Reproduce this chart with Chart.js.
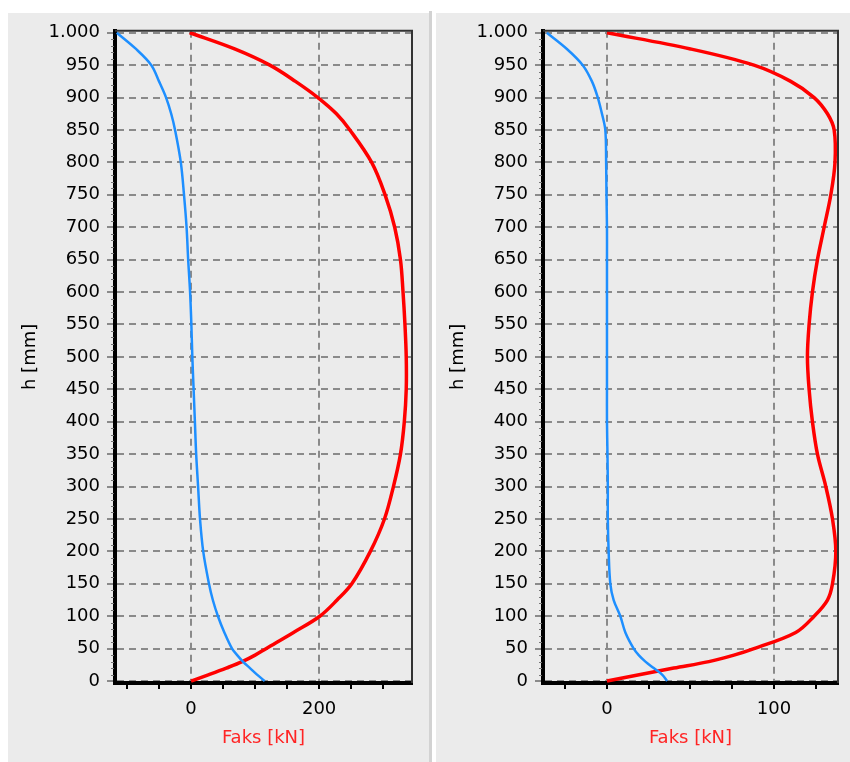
<!DOCTYPE html>
<html>
<head>
<meta charset="utf-8">
<script src="https://cdn.jsdelivr.net/npm/chart.js@4.4.0/dist/chart.umd.min.js"></script>
<style>
  html, body { margin: 0; padding: 0; background: #fff; }
  body { width: 850px; height: 762px; position: relative; overflow: hidden; }
  .panel { position: absolute; top: 13px; height: 749px; background: #ebebeb; }
  #leftPanel { left: 8px; width: 421px; }
  #rightPanel { left: 436px; width: 414px; }
  .divider { position: absolute; left: 429px; top: 11px; width: 3px; height: 751px; background: #d2d2d2; }
  canvas { display: block; }
</style>
</head>
<body>
<div class="panel" id="leftPanel"><canvas id="leftChart" width="421" height="749"></canvas></div>
<div class="divider"></div>
<div class="panel" id="rightPanel"><canvas id="rightChart" width="414" height="749"></canvas></div>

<script>
// heights [mm] where the curves were read
const hLevels = [0, 10, 20, 30, 40, 50, 75, 100, 125, 150, 200, 250, 300, 350, 400, 450, 500,
                 550, 600, 650, 700, 750, 800, 850, 875, 900, 925, 950, 975, 1000];

// left diagram, Faks [kN]
const leftRed  = [0, 28, 55, 80, 100, 117, 160, 201, 228, 251, 280, 302, 316, 327, 333, 336, 336,
                  334, 331, 327, 318, 303, 282, 248, 227, 198, 163, 123, 68, -2];
const leftBlue = [115, 103, 92, 81, 72, 64, 52, 42, 34, 28, 19, 14, 11, 8, 6, 4, 2,
                  0.5, -1.5, -4.5, -7, -11, -16, -25, -31, -39, -50, -62, -86, -116];

// right diagram, Faks [kN]
const rightRed  = [0, 20, 40, 61, 76, 88, 113, 124, 132, 135, 137, 135, 131, 126, 123, 121, 120,
                   121, 123, 126, 130, 134, 136.5, 136, 132, 124, 110, 88, 50, 0];
const rightBlue = [36, 33, 28, 23, 19, 16, 11, 8, 4, 2, 1, 0.5, 0.5, 0.3, 0, 0, 0,
                   0, 0, 0, 0, -0.3, -0.5, -1, -3, -5.5, -9, -14.5, -24, -36];

// axes
const yTicks = [0, 50, 100, 150, 200, 250, 300, 350, 400, 450, 500, 550, 600, 650, 700, 750, 800, 850, 900, 950, 1000];
const yTickLabels = ['0', '50', '100', '150', '200', '250', '300', '350', '400', '450', '500', '550', '600',
                     '650', '700', '750', '800', '850', '900', '950', '1.000'];
const leftXTicks  = [-100, -50, 0, 50, 100, 150, 200, 250, 300];
const leftXLabels = ['', '', '0', '', '', '', '200', '', ''];
const rightXTicks  = [-25, 0, 25, 50, 75, 100, 125];
const rightXLabels = ['', '0', '', '', '', '100', ''];

Chart.defaults.font.family = '"DejaVu Sans", Verdana, sans-serif';
Chart.defaults.font.size = 18;

const GRID = '#8a8a8a';
const DASH = [7, 5];

const framePlugin = {
    id: 'frame',
    afterDraw(chart) {
        const { ctx, chartArea: a, scales } = chart;
        const y = scales.y;
        ctx.save();
        ctx.strokeStyle = '#333';
        ctx.lineWidth = 2;
        ctx.beginPath();
        ctx.moveTo(a.left, a.top);
        ctx.lineTo(a.right, a.top);
        ctx.lineTo(a.right, a.bottom);
        ctx.stroke();
        // small minor ticks along the h axis
        ctx.strokeStyle = '#777';
        ctx.lineWidth = 1;
        for (let v = 10; v < 1000; v += 10) {
            if (v % 50 === 0) continue;
            const py = Math.round(y.getPixelForValue(v)) + 0.5;
            ctx.beginPath();
            ctx.moveTo(a.left - 4, py);
            ctx.lineTo(a.left - 1, py);
            ctx.stroke();
        }
        ctx.restore();
    }
};

function toPoints(values) {
    return values.map((v, i) => ({ x: v, y: hLevels[i] }));
}

function makeChart(id, red, blue, xMin, xMax, xTicks, xLabels, padRight) {
    const ctx = document.getElementById(id).getContext('2d');
    return new Chart(ctx, {
        type: 'scatter',
        data: {
            datasets: [
                {
                    label: 'blue',
                    data: toPoints(blue),
                    showLine: true,
                    borderColor: '#1e8fff',
                    borderWidth: 2.5,
                    pointRadius: 0,
                    tension: 0.35
                },
                {
                    label: 'red',
                    data: toPoints(red),
                    showLine: true,
                    borderColor: '#ff0000',
                    borderWidth: 3.5,
                    pointRadius: 0,
                    tension: 0.35
                }
            ]
        },
        options: {
            responsive: false,
            animation: false,
            events: [],
            layout: { padding: { top: 17, right: padRight, bottom: 0, left: 0 } },
            plugins: {
                legend: { display: false },
                tooltip: { enabled: false }
            },
            scales: {
                x: {
                    type: 'linear',
                    bounds: 'data',
                    min: xMin,
                    max: xMax,
                    afterBuildTicks: s => { s.ticks = xTicks.map(v => ({ value: v })); },
                    afterFit: s => { s.height = 79; },
                    ticks: {
                        autoSkip: false,
                        maxRotation: 0,
                        color: '#000',
                        padding: 10,
                        callback: v => xLabels[xTicks.indexOf(v)] || ''
                    },
                    grid: {
                        color: c => (xLabels[xTicks.indexOf(c.tick && c.tick.value)] ? GRID : 'rgba(0,0,0,0)'),
                        lineWidth: 2,
                        tickLength: 6,
                        tickColor: '#000',
                        tickWidth: 2
                    },
                    border: { color: '#000', width: 4, dash: DASH },
                    title: {
                        display: true,
                        text: 'Faks [kN]',
                        color: '#ff2424',
                        padding: { top: 0, bottom: 13 }
                    }
                },
                y: {
                    type: 'linear',
                    bounds: 'data',
                    min: -3,
                    max: 1003,
                    afterBuildTicks: s => { s.ticks = yTicks.map(v => ({ value: v })); },
                    afterFit: s => { s.width = 107; },
                    ticks: {
                        autoSkip: false,
                        color: '#000',
                        padding: 7,
                        callback: v => yTickLabels[yTicks.indexOf(v)]
                    },
                    grid: {
                        color: GRID,
                        lineWidth: 2,
                        tickLength: 8,
                        tickColor: GRID,
                        tickWidth: 2
                    },
                    border: { color: '#000', width: 4, dash: DASH },
                    title: {
                        display: true,
                        text: 'h [mm]',
                        color: '#000',
                        padding: { top: 12, bottom: 0 }
                    }
                }
            }
        },
        plugins: [framePlugin]
    });
}

makeChart('leftChart', leftRed, leftBlue, -118.75, 345, leftXTicks, leftXLabels, 17);
makeChart('rightChart', rightRed, rightBlue, -38.3, 138.3, rightXTicks, rightXLabels, 12);
</script>
</body>
</html>
